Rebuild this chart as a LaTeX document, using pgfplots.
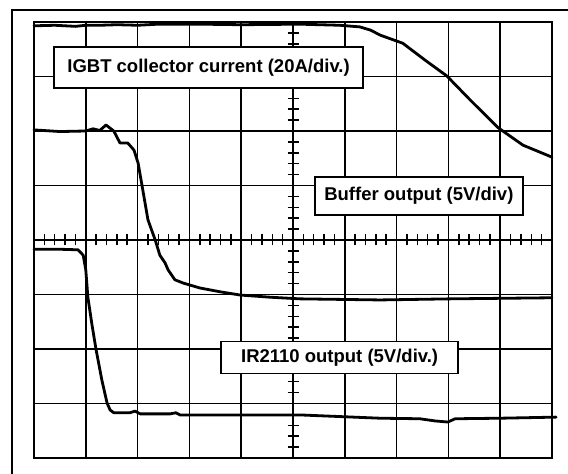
\documentclass[border=0pt]{standalone}
\usepackage{fontspec}
\setmainfont{Liberation Sans}
\usepackage{pgfplots}
\pgfplotsset{compat=1.18}
\tikzset{
  trace/.style={black, line width=2.8pt, line join=round, line cap=round, mark=none},
  lbl/.style={draw=black, fill=white, line width=1.8pt, inner sep=0pt, text=black,
    font=\bfseries\fontsize{18.5}{20}\selectfont},
}
\begin{document}
\begin{tikzpicture}
\path[use as bounding box] (0,0) rectangle (568pt,474pt);
\draw[line width=2pt] (12pt,0) -- (12pt,464pt) -- (568pt,464pt);
\begin{axis}[
  at={(34pt,16pt)}, anchor=south west,
  scale only axis, width=518pt, height=436pt,
  xmin=0, xmax=10, ymin=0, ymax=8,
  xtick={0,...,10}, ytick={0,...,8},
  xticklabels={}, yticklabels={},
  major tick length=0pt,
  grid=major,
  grid style={black, line width=1.7pt},
  axis line style={black, line width=1.8pt},
  clip=false,
]
\end{axis}
% graticule centre ticks
\foreach \k in {1,...,49} {
  \draw[black, line width=1.5pt] ({34pt+51.8pt*\k/5}, 228.5pt) -- ({34pt+51.8pt*\k/5}, 239.5pt);
}
\foreach \k in {1,...,39} {
  \draw[black, line width=1.5pt] (287.5pt, {16pt+54.5pt*\k/5}) -- (298.5pt, {16pt+54.5pt*\k/5});
}
\begin{axis}[
  at={(34pt,16pt)}, anchor=south west,
  scale only axis, width=518pt, height=436pt,
  xmin=0, xmax=10, ymin=0, ymax=8,
  hide axis, clip=false,
]
% IGBT collector current
\addplot[trace] coordinates {
(0,7.93) (0.4,7.94) (0.8,7.92) (1.0,7.94) (1.27,7.94) (1.6,7.95) (2.0,7.94) (2.4,7.96)
(3.2,7.96) (4.0,7.95) (5.13,7.96) (5.9,7.94) (6.29,7.91) (6.5,7.85) (6.68,7.76)
(7.12,7.61) (7.55,7.30) (7.97,7.01) (8.42,6.57) (8.96,6.06) (9.44,5.74) (10,5.52)
};
% Buffer output
\addplot[trace] coordinates {
(0,6.02) (0.5,5.99) (1.0,6.00) (1.14,6.04) (1.27,6.01) (1.39,6.11) (1.54,6.00)
(1.66,5.78) (1.81,5.78) (1.93,5.65) (2.01,5.41) (2.10,4.92) (2.20,4.37) (2.34,4.0)
(2.43,3.72) (2.53,3.58) (2.59,3.45) (2.72,3.27) (2.88,3.21) (3.20,3.12) (3.59,3.05)
(3.98,2.99) (4.56,2.95) (5.14,2.92) (6.68,2.90) (8.03,2.92) (10,2.94)
};
% IR2110 output
\addplot[trace] coordinates {
(0,3.83) (0.5,3.83) (0.85,3.82) (0.95,3.72) (1.00,3.45) (1.04,2.95) (1.12,2.44)
(1.20,1.98) (1.31,1.43) (1.41,1.01) (1.47,0.88) (1.54,0.83) (1.85,0.83) (1.95,0.86)
(2.05,0.81) (2.63,0.81) (2.74,0.83) (2.82,0.79) (4.17,0.79) (5.14,0.79) (6.68,0.73)
(7.45,0.72) (7.74,0.68) (7.99,0.66) (8.13,0.72) (9.0,0.73) (10.08,0.75)
};
\node[lbl, minimum width=309pt, minimum height=41pt] at (axis cs:3.37,7.165) {IGBT collector current (20A/div.)};
\node[lbl, minimum width=208pt, minimum height=38pt] at (axis cs:7.43,4.81) {Buffer output (5V/div)};
\node[lbl, minimum width=237pt, minimum height=32pt] at (axis cs:5.90,1.844) {IR2110 output (5V/div.)};
\end{axis}
\end{tikzpicture}
\end{document}
